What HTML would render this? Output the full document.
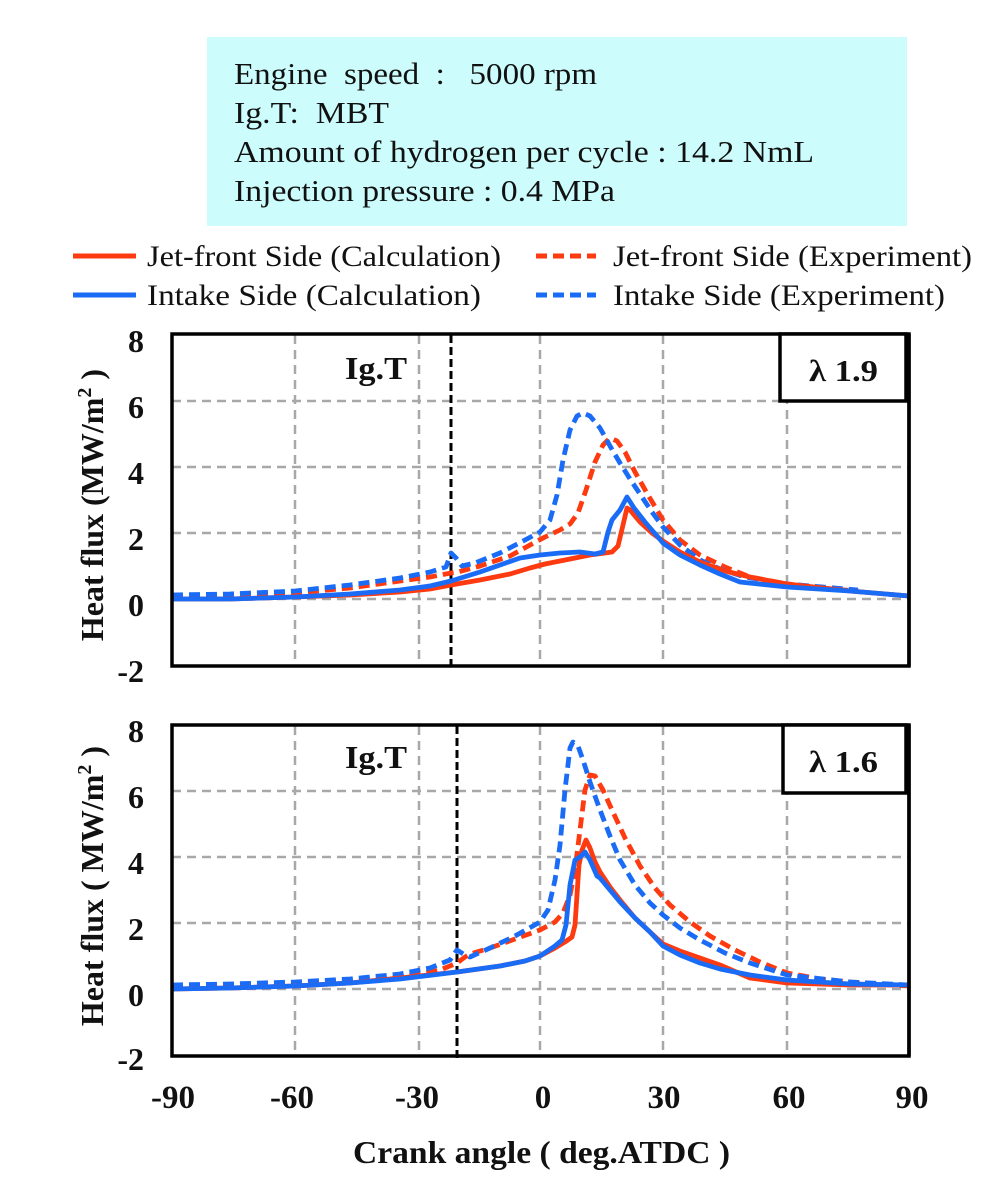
<!DOCTYPE html>
<html>
<head>
<meta charset="utf-8">
<style>
html,body{margin:0;padding:0;background:#ffffff;}
svg{display:block;}
.serif{font-family:"Liberation Serif","Times New Roman",Times,"Nimbus Roman","Nimbus Roman No9 L",Tinos,serif;}
.b{font-weight:bold;}
</style>
</head>
<body>
<svg width="1000" height="1183" viewBox="0 0 1000 1183" xmlns="http://www.w3.org/2000/svg">
<rect x="0" y="0" width="1000" height="1183" fill="#ffffff"/>

<!-- Header info box -->
<rect x="207" y="37" width="700" height="189" fill="#ccfcfc"/>
<g class="serif" font-size="31" fill="#111">
  <text x="234" y="84" textLength="363" lengthAdjust="spacingAndGlyphs" xml:space="preserve">Engine  speed  :   5000 rpm</text>
  <text x="234" y="123" textLength="155" lengthAdjust="spacingAndGlyphs" xml:space="preserve">Ig.T:  MBT</text>
  <text x="234" y="162" textLength="580" lengthAdjust="spacingAndGlyphs" xml:space="preserve">Amount of hydrogen per cycle : 14.2 NmL</text>
  <text x="234" y="201" textLength="381" lengthAdjust="spacingAndGlyphs" xml:space="preserve">Injection pressure : 0.4 MPa</text>
</g>

<!-- Legend -->
<g stroke-width="5" fill="none">
  <line x1="73" y1="256" x2="136" y2="256" stroke="#fe3a10"/>
  <line x1="536" y1="256" x2="596" y2="256" stroke="#fe3a10" stroke-dasharray="11,6"/>
  <line x1="73" y1="295" x2="136" y2="295" stroke="#1a6cf6"/>
  <line x1="536" y1="295" x2="596" y2="295" stroke="#1a6cf6" stroke-dasharray="11,6"/>
</g>
<g class="serif" font-size="30" fill="#111">
  <text x="147" y="266" textLength="354" lengthAdjust="spacingAndGlyphs">Jet-front Side (Calculation)</text>
  <text x="613" y="266" textLength="359" lengthAdjust="spacingAndGlyphs">Jet-front Side (Experiment)</text>
  <text x="147" y="305" textLength="334" lengthAdjust="spacingAndGlyphs">Intake Side (Calculation)</text>
  <text x="613" y="305" textLength="332" lengthAdjust="spacingAndGlyphs">Intake Side (Experiment)</text>
</g>

<!-- ================= PLOT 1 ================= -->
<g stroke="#a8a8a8" stroke-width="2.5" stroke-dasharray="9,6" fill="none">
  <line x1="295" y1="335" x2="295" y2="665"/>
  <line x1="419" y1="335" x2="419" y2="665"/>
  <line x1="540" y1="335" x2="540" y2="665"/>
  <line x1="663" y1="335" x2="663" y2="665"/>
  <line x1="787" y1="335" x2="787" y2="665"/>
  <line x1="172" y1="401" x2="908" y2="401"/>
  <line x1="172" y1="467" x2="908" y2="467"/>
  <line x1="172" y1="533" x2="908" y2="533"/>
  <line x1="172" y1="599" x2="908" y2="599"/>
</g>
<line x1="451" y1="335" x2="451" y2="671" stroke="#000" stroke-width="3" stroke-dasharray="8,4"/>

<g fill="none" stroke-width="4.8" stroke-linejoin="round" stroke-linecap="butt">
  <polyline stroke="#fe3a10" stroke-dasharray="11,6" points="172,596 230,595 295,593 350,588 400,581 430,577 451,573 458,572 480,566 510,556 530,545 545,537 560,530 570,524 578,513 586,490 595,462 603,445 610,438 617,441 625,452 635,472 648,495 663,520 680,540 700,555 725,567 750,577 787,584 820,588 858,591"/>
  <polyline stroke="#1a6cf6" stroke-dasharray="11,6" points="172,595 230,594 295,591 350,585 400,578 430,572 446,567 451,553 456,558 462,566 475,563 500,553 525,540 540,532 550,520 557,495 563,460 570,430 577,416 583,413 590,416 600,428 610,446 620,463 630,479 640,494 652,512 663,527 680,545 700,560 720,569 745,577 787,584 858,590"/>
  <polyline stroke="#fe3a10" points="172,599 230,599 295,597 350,595 400,592 430,589 451,585 480,580 510,574 530,568 545,564 570,559 590,555 605,553 612,552 618,546 623,525 627,508 630,510 640,522 652,533 663,541 680,552 700,562 725,571 750,577 787,584 850,591 909,596"/>
  <polyline stroke="#1a6cf6" points="172,599 230,599 295,597 350,594 400,590 430,586 451,581 480,572 500,565 520,558 540,555 560,553 580,552 595,554 603,552 608,532 612,520 620,510 627,497 634,508 645,522 663,543 680,555 700,565 720,574 740,582 787,587 850,591 909,596"/>
</g>

<rect x="172" y="334" width="737" height="332" fill="none" stroke="#000" stroke-width="3.5"/>
<rect x="780" y="334" width="126" height="67" fill="#fff" stroke="#000" stroke-width="3.5"/>
<line x1="909" y1="334" x2="909" y2="666" stroke="#000" stroke-width="3.5"/>

<g class="serif b" fill="#111">
  <text x="345" y="379" font-size="32" textLength="62" lengthAdjust="spacingAndGlyphs">Ig.T</text>
  <text x="809" y="381" font-size="31" textLength="69" lengthAdjust="spacingAndGlyphs">λ 1.9</text>
</g>

<g class="serif b" font-size="32" fill="#111" text-anchor="end">
  <text x="144" y="352">8</text>
  <text x="144" y="418">6</text>
  <text x="144" y="484">4</text>
  <text x="144" y="550">2</text>
  <text x="144" y="616">0</text>
  <text x="144" y="682">-2</text>
</g>
<text class="serif b" transform="translate(103,505) rotate(-90)" text-anchor="middle" font-size="32" fill="#111">Heat flux (MW/m<tspan font-size="20" dy="-12">2</tspan><tspan dy="12"> )</tspan></text>

<!-- ================= PLOT 2 ================= -->
<g stroke="#a8a8a8" stroke-width="2.5" stroke-dasharray="9,6" fill="none">
  <line x1="295" y1="726" x2="295" y2="1054"/>
  <line x1="419" y1="726" x2="419" y2="1054"/>
  <line x1="540" y1="726" x2="540" y2="1054"/>
  <line x1="663" y1="726" x2="663" y2="1054"/>
  <line x1="787" y1="726" x2="787" y2="1054"/>
  <line x1="172" y1="791" x2="908" y2="791"/>
  <line x1="172" y1="857" x2="908" y2="857"/>
  <line x1="172" y1="923" x2="908" y2="923"/>
  <line x1="172" y1="989" x2="908" y2="989"/>
</g>
<line x1="457" y1="726" x2="457" y2="1061" stroke="#000" stroke-width="3" stroke-dasharray="8,4"/>

<g fill="none" stroke-width="4.8" stroke-linejoin="round" stroke-linecap="butt">
  <polyline stroke="#fe3a10" stroke-dasharray="11,6" points="172,986 230,985 295,983 350,981 400,977 440,970 457,963 465,957 470,954 490,948 515,939 540,930 555,922 563,913 570,895 575,870 580,830 585,790 590,775 595,776 603,790 612,810 625,838 640,866 655,888 670,905 690,922 710,936 735,950 760,962 787,973 820,979 860,983 909,986"/>
  <polyline stroke="#1a6cf6" stroke-dasharray="11,6" points="172,985 230,984 295,982 350,979 400,974 430,968 450,960 457,950 465,955 470,957 490,948 515,936 540,922 548,910 555,880 560,845 565,790 570,748 573,742 578,746 583,760 590,782 600,810 610,836 620,860 635,885 650,903 663,915 680,928 700,940 725,953 750,963 787,975 850,982 909,985"/>
  <polyline stroke="#fe3a10" points="172,989 230,988 295,986 350,983 400,978 457,972 500,966 525,961 540,956 555,948 565,942 572,937 575,925 577,895 579,865 582,850 586,840 590,848 595,862 600,872 610,887 620,900 635,918 650,932 663,944 680,951 700,958 720,965 750,978 787,983 850,985 909,985"/>
  <polyline stroke="#1a6cf6" points="172,989 230,988 295,986 350,983 400,979 457,972 500,966 525,961 540,956 555,946 562,940 566,925 570,885 575,860 580,857 585,852 590,860 597,876 600,878 610,890 620,902 635,918 650,932 663,946 680,955 700,963 720,969 750,975 787,980 850,984 909,985"/>
</g>

<rect x="172" y="725" width="737" height="331" fill="none" stroke="#000" stroke-width="3.5"/>
<rect x="783" y="725" width="123" height="68" fill="#fff" stroke="#000" stroke-width="3.5"/>
<line x1="909" y1="725" x2="909" y2="1056" stroke="#000" stroke-width="3.5"/>

<g class="serif b" fill="#111">
  <text x="345" y="768" font-size="32" textLength="62" lengthAdjust="spacingAndGlyphs">Ig.T</text>
  <text x="809" y="772" font-size="31" textLength="69" lengthAdjust="spacingAndGlyphs">λ 1.6</text>
</g>

<g class="serif b" font-size="32" fill="#111" text-anchor="end">
  <text x="144" y="742">8</text>
  <text x="144" y="808">6</text>
  <text x="144" y="874">4</text>
  <text x="144" y="940">2</text>
  <text x="144" y="1006">0</text>
  <text x="144" y="1070">-2</text>
</g>
<text class="serif b" transform="translate(103,886) rotate(-90)" text-anchor="middle" font-size="32" fill="#111" xml:space="preserve">Heat flux ( MW/m<tspan font-size="20" dy="-12">2</tspan><tspan dy="12"> )</tspan></text>

<!-- X axis tick labels -->
<g class="serif b" font-size="33" fill="#111" text-anchor="middle">
  <text x="173" y="1108">-90</text>
  <text x="292" y="1108">-60</text>
  <text x="417" y="1108">-30</text>
  <text x="543" y="1108">0</text>
  <text x="664" y="1108">30</text>
  <text x="789" y="1108">60</text>
  <text x="912" y="1108">90</text>
</g>
<text class="serif b" x="353" y="1163" font-size="32" fill="#111" textLength="377" lengthAdjust="spacingAndGlyphs" xml:space="preserve">Crank angle ( deg.ATDC )</text>

</svg>
</body>
</html>
